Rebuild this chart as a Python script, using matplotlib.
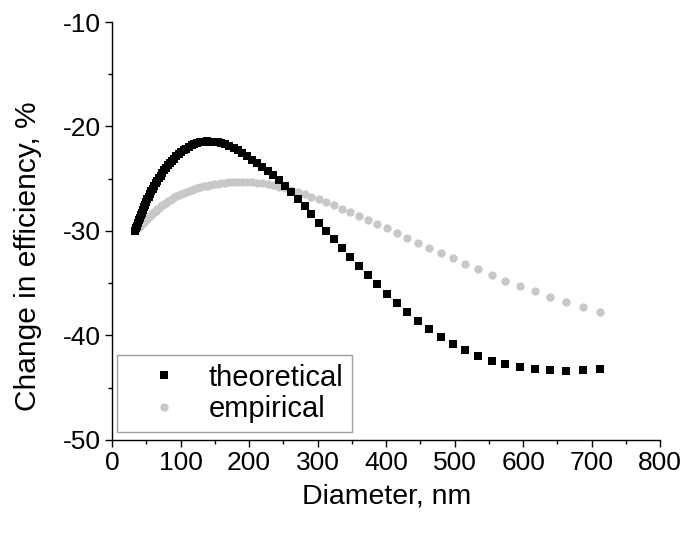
import matplotlib
matplotlib.use("Agg")
import matplotlib.pyplot as plt
from matplotlib.ticker import MultipleLocator

plt.rcParams['font.family'] = ['Liberation Sans', 'DejaVu Sans']
plt.rcParams['axes.unicode_minus'] = False

# Diameter (nm)
diameter = [
    33.6, 34.8, 36.1, 37.4, 38.7, 40.1, 41.6, 43.1, 44.6, 46.2,
    47.9, 49.6, 51.4, 53.3, 55.2, 57.2, 59.2, 61.4, 63.6, 65.9,
    68.2, 70.7, 73.2, 75.9, 78.6, 81.4, 84.4, 87.4, 90.6, 93.8,
    97.2, 100.7, 104.3, 108.1, 112.0, 116.0, 120.2, 124.5, 129.0, 133.6,
    138.4, 143.4, 148.6, 153.9, 159.5, 165.2, 171.2, 177.3, 183.7, 190.3,
    197.2, 204.3, 211.6, 219.2, 227.1, 235.3, 243.8, 252.6, 261.7, 271.1,
    280.9, 291.0, 301.4, 312.3, 323.5, 335.2, 347.8, 360.4, 373.5, 387.2,
    401.2, 415.7, 430.9, 446.3, 463.0, 479.8, 497.3, 515.4, 534.8, 554.0,
    574.0, 595.0, 616.8, 639.3, 662.6, 687.8, 712.6,
]

# Change in efficiency (%), theoretical
theoretical = [
    -30.00, -29.76, -29.51, -29.25, -29.00, -28.75, -28.49, -28.24, -27.99, -27.74,
    -27.48, -27.23, -26.98, -26.72, -26.47, -26.22, -25.96, -25.71, -25.46, -25.20,
    -24.95, -24.70, -24.44, -24.19, -23.96, -23.73, -23.50, -23.28, -23.07, -22.86,
    -22.66, -22.47, -22.29, -22.12, -21.96, -21.82, -21.70, -21.60, -21.52, -21.46,
    -21.43, -21.44, -21.47, -21.52, -21.60, -21.71, -21.86, -22.05, -22.28, -22.55,
    -22.85, -23.17, -23.51, -23.87, -24.26, -24.68, -25.14, -25.67, -26.27, -26.93,
    -27.65, -28.42, -29.22, -30.02, -30.80, -31.66, -32.52, -33.38, -34.25, -35.13,
    -36.01, -36.88, -37.74, -38.58, -39.38, -40.13, -40.82, -41.44, -41.98, -42.43,
    -42.79, -43.06, -43.24, -43.34, -43.37, -43.33, -43.21,
]

# Change in efficiency (%), empirical
empirical = [
    -30.00, -29.91, -29.82, -29.73, -29.64, -29.54, -29.44, -29.34, -29.24, -29.13,
    -29.02, -28.91, -28.80, -28.68, -28.56, -28.44, -28.31, -28.18, -28.05, -27.92,
    -27.79, -27.66, -27.53, -27.40, -27.28, -27.16, -27.04, -26.92, -26.80, -26.69,
    -26.58, -26.47, -26.37, -26.27, -26.17, -26.08, -25.99, -25.90, -25.82, -25.74,
    -25.67, -25.60, -25.54, -25.48, -25.43, -25.39, -25.35, -25.32, -25.30, -25.29,
    -25.30, -25.33, -25.38, -25.45, -25.54, -25.65, -25.78, -25.93, -26.10, -26.29,
    -26.50, -26.73, -26.98, -27.25, -27.54, -27.86, -28.20, -28.56, -28.94, -29.34,
    -29.76, -30.20, -30.66, -31.14, -31.63, -32.13, -32.64, -33.16, -33.69, -34.22,
    -34.75, -35.27, -35.78, -36.28, -36.77, -37.25, -37.72,
]

series_labels = ["theoretical", "empirical"]
x_label = "Diameter, nm"
y_label = "Change in efficiency, %"

fig = plt.figure(figsize=(6.92, 5.37), dpi=100)
ax = fig.add_axes([0.162, 0.181, 0.792, 0.778])

ax.plot(diameter, theoretical, linestyle='none', marker='s', markersize=5.5,
        color='black', markeredgewidth=0, label=series_labels[0], zorder=3)
ax.plot(diameter, empirical, linestyle='none', marker='o', markersize=6,
        color='#c8c8c8', markeredgewidth=0, label=series_labels[1], zorder=2)

ax.set_xlim(0, 800)
ax.set_ylim(-50, -10)
ax.xaxis.set_major_locator(MultipleLocator(100))
ax.xaxis.set_minor_locator(MultipleLocator(50))
ax.yaxis.set_major_locator(MultipleLocator(10))
ax.yaxis.set_minor_locator(MultipleLocator(5))

for s in ['top', 'right']:
    ax.spines[s].set_visible(False)
for s in ['left', 'bottom']:
    ax.spines[s].set_linewidth(1.0)
    ax.spines[s].set_color('black')

ax.tick_params(which='major', direction='out', length=5, width=1, labelsize=19, colors='black', pad=3)
ax.tick_params(which='minor', direction='out', length=3, width=1)

ax.set_xlabel(x_label, fontsize=20.5, labelpad=6)
ax.set_ylabel(y_label, fontsize=21.5)
ax.yaxis.set_label_coords(-0.128, 0.439)

leg = ax.legend(loc='lower left', bbox_to_anchor=(0.009, 0.019), borderaxespad=0,
                fontsize=21, frameon=True, fancybox=False, edgecolor='#888888',
                handlelength=2.6, handletextpad=0.25, borderpad=0.3, labelspacing=0.12,
                markerscale=1.0)
leg.get_frame().set_linewidth(1.0)

fig.savefig('out.png', dpi=100)
